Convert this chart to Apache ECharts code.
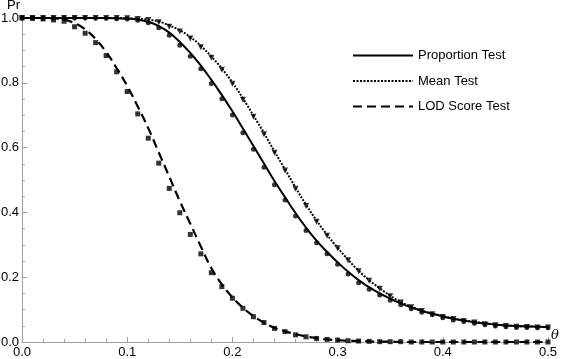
<!DOCTYPE html>
<html>
<head>
<meta charset="utf-8">
<script src="https://cdn.jsdelivr.net/npm/echarts@6/dist/echarts.min.js"></script>
<style>
  html, body { margin: 0; padding: 0; background: #fff; }
  #chart { width: 561px; height: 359px; }
</style>
</head>
<body>
<div id="chart"></div>
<script>
// theta grid (recombination fraction)
var theta = [0.00, 0.01, 0.02, 0.03, 0.04, 0.05, 0.06, 0.07, 0.08, 0.09,
             0.10, 0.11, 0.12, 0.13, 0.14, 0.15, 0.16, 0.17, 0.18, 0.19,
             0.20, 0.21, 0.22, 0.23, 0.24, 0.25, 0.26, 0.27, 0.28, 0.29,
             0.30, 0.31, 0.32, 0.33, 0.34, 0.35, 0.36, 0.37, 0.38, 0.39,
             0.40, 0.41, 0.42, 0.43, 0.44, 0.45, 0.46, 0.47, 0.48, 0.49, 0.50];

// theoretical curves
var propLine = [1.000, 1.000, 1.000, 1.000, 1.000, 1.000, 1.000, 1.000, 1.000, 0.999,
                0.998, 0.995, 0.988, 0.975, 0.955, 0.926, 0.892, 0.853, 0.809, 0.762,
                0.712, 0.659, 0.605, 0.551, 0.497, 0.447, 0.398, 0.353, 0.313, 0.278,
                0.246, 0.217, 0.191, 0.169, 0.150, 0.134, 0.119, 0.107, 0.096, 0.087,
                0.079, 0.072, 0.066, 0.061, 0.057, 0.054, 0.051, 0.049, 0.048, 0.047, 0.046];
var meanLine = [1.000, 1.000, 1.000, 1.000, 1.000, 1.000, 1.000, 1.000, 1.000, 1.000,
                0.999, 0.998, 0.995, 0.989, 0.977, 0.962, 0.941, 0.914, 0.881, 0.844,
                0.801, 0.752, 0.699, 0.645, 0.588, 0.533, 0.477, 0.424, 0.375, 0.331,
                0.291, 0.254, 0.220, 0.191, 0.166, 0.143, 0.124, 0.109, 0.097, 0.088,
                0.080, 0.073, 0.067, 0.062, 0.058, 0.054, 0.051, 0.049, 0.048, 0.047, 0.046];
var lodLine = [1.000, 1.000, 1.000, 0.999, 0.995, 0.984, 0.965, 0.935, 0.895, 0.845,
               0.790, 0.727, 0.660, 0.585, 0.510, 0.435, 0.365, 0.295, 0.228, 0.178,
               0.138, 0.106, 0.080, 0.060, 0.044, 0.033, 0.024, 0.017, 0.012, 0.008,
               0.006, 0.004, 0.003, 0.002, 0.001, 0.001, 0.000, 0.000, 0.000, 0.000,
               0.000, 0.000, 0.000, 0.000, 0.000, 0.000, 0.000, 0.000, 0.000, 0.000, 0.000];

// simulated values (markers)
var propSim = [1.000, 1.000, 1.000, 1.000, 1.000, 1.000, 1.000, 0.999, 0.999, 0.998,
               0.997, 0.993, 0.985, 0.970, 0.947, 0.916, 0.882, 0.843, 0.798, 0.751,
               0.701, 0.646, 0.595, 0.539, 0.485, 0.438, 0.389, 0.344, 0.306, 0.272,
               0.240, 0.210, 0.183, 0.163, 0.145, 0.129, 0.115, 0.103, 0.092, 0.084,
               0.075, 0.068, 0.063, 0.058, 0.053, 0.049, 0.047, 0.045, 0.045, 0.044, 0.044];
var meanSim = [1.000, 1.000, 1.000, 1.000, 1.000, 1.000, 1.000, 1.000, 1.000, 1.000,
               0.999, 0.997, 0.994, 0.987, 0.973, 0.958, 0.937, 0.910, 0.877, 0.840,
               0.797, 0.748, 0.695, 0.641, 0.584, 0.529, 0.473, 0.420, 0.371, 0.328,
               0.289, 0.252, 0.218, 0.189, 0.164, 0.141, 0.122, 0.107, 0.096, 0.086,
               0.077, 0.071, 0.065, 0.060, 0.055, 0.052, 0.049, 0.047, 0.046, 0.045, 0.045];
var lodSim = [1.000, 0.999, 0.997, 0.994, 0.990, 0.973, 0.953, 0.924, 0.884, 0.834,
              0.773, 0.704, 0.629, 0.552, 0.474, 0.399, 0.332, 0.272, 0.214, 0.171,
              0.135, 0.104, 0.078, 0.060, 0.042, 0.032, 0.022, 0.016, 0.011, 0.008,
              0.006, 0.004, 0.003, 0.002, 0.001, 0.001, 0.001, 0.000, 0.000, 0.000,
              0.000, 0.000, 0.000, 0.000, 0.000, 0.000, 0.000, 0.000, 0.000, 0.000, 0.000];

var xTicks = [0.0, 0.1, 0.2, 0.3, 0.4, 0.5];
var yTicks = [0.0, 0.2, 0.4, 0.6, 0.8, 1.0];
var legendNames = ['Proportion Test', 'Mean Test', 'LOD Score Test'];

function pairs(ys) {
  return theta.map(function (t, i) { return [t, ys[i]]; });
}

var chart = echarts.init(document.getElementById('chart'));
var font = '"Liberation Sans", Arial, sans-serif';
var axisGrey = '#a0a0a0';

var option = {
  animation: false,
  backgroundColor: '#fff',
  textStyle: { fontFamily: font },
  grid: { left: 22, right: 13, top: 18, bottom: 17, outerBoundsMode: 'none' },
  legend: {
    data: legendNames,
    orient: 'vertical',
    left: 352,
    top: 49,
    padding: 0,
    itemWidth: 60,
    itemHeight: 14,
    itemGap: 12.5,
    itemStyle: { opacity: 0 },   // line only, no symbol in the key
    textStyle: { fontFamily: font, fontSize: 13, color: '#000' }
  },
  xAxis: {
    type: 'value',
    min: xTicks[0],
    max: xTicks[xTicks.length - 1],
    interval: 0.1,
    name: 'θ',
    nameLocation: 'end',
    nameGap: 3,
    nameTextStyle: { fontFamily: 'DejaVu Serif', fontStyle: 'italic', fontSize: 13, color: '#000',
                     verticalAlign: 'bottom' },
    axisLine: { lineStyle: { color: axisGrey, width: 1 } },
    axisTick: { inside: true, length: 5, lineStyle: { color: axisGrey } },
    minorTick: { show: true, splitNumber: 5, length: 3, lineStyle: { color: axisGrey } },
    axisLabel: { color: '#000', fontSize: 13, margin: 4,
                 formatter: function (v) { return v.toFixed(1); } },
    splitLine: { show: false }
  },
  yAxis: {
    type: 'value',
    min: yTicks[0],
    max: yTicks[yTicks.length - 1],
    interval: 0.2,
    name: 'Pr',
    nameLocation: 'end',
    nameGap: 5,
    nameTextStyle: { fontSize: 13, color: '#000', align: 'right', padding: [0, 2, 0, 0] },
    axisLine: { show: true, lineStyle: { color: axisGrey, width: 1 } },
    axisTick: { show: true, inside: true, length: 5, lineStyle: { color: axisGrey } },
    minorTick: { show: true, splitNumber: 4, length: 3, lineStyle: { color: axisGrey } },
    axisLabel: { color: '#000', fontSize: 13, margin: 3,
                 formatter: function (v) { return v.toFixed(1); } },
    splitLine: { show: false }
  },
  series: [
    {
      name: 'Proportion Test', type: 'line', data: pairs(propLine), smooth: true,
      symbol: 'none', lineStyle: { color: '#000', width: 2, type: 'solid' },
      itemStyle: { color: '#000' }, z: 3
    },
    {
      name: 'Mean Test', type: 'line', data: pairs(meanLine), smooth: true,
      symbol: 'none', lineStyle: { color: '#000', width: 2, type: [2, 1.5] },
      itemStyle: { color: '#000' }, z: 3
    },
    {
      name: 'LOD Score Test', type: 'line', data: pairs(lodLine), smooth: true,
      symbol: 'none', lineStyle: { color: '#000', width: 2.2, type: [9, 5] },
      itemStyle: { color: '#000' }, z: 3
    },
    {
      name: 'propSim', type: 'scatter', data: pairs(propSim),
      symbol: 'circle', symbolSize: 5, itemStyle: { color: '#000' }, z: 4
    },
    {
      name: 'meanSim', type: 'scatter', data: pairs(meanSim),
      symbol: 'triangle', symbolRotate: 180, symbolSize: 6, itemStyle: { color: '#000' }, z: 4
    },
    {
      name: 'lodSim', type: 'scatter', data: pairs(lodSim),
      symbol: 'rect', symbolSize: 5, itemStyle: { color: '#000' }, z: 4
    }
  ]
};

chart.setOption(option);
</script>
</body>
</html>
